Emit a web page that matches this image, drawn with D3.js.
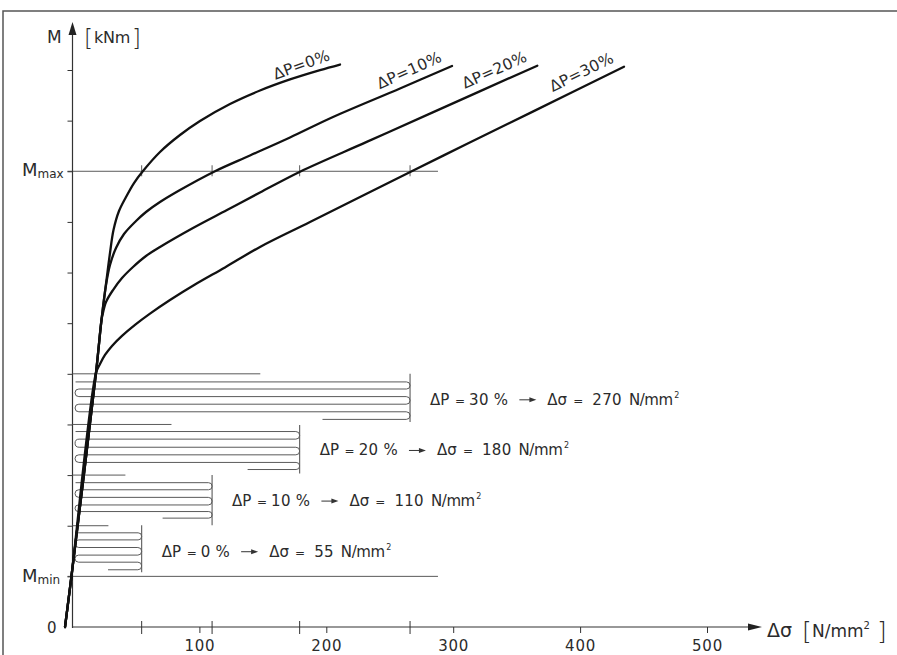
<!DOCTYPE html>
<html><head><meta charset="utf-8">
<script src="https://cdn.jsdelivr.net/npm/d3@7"></script>
<style>
body{margin:0;background:#fff}
svg{display:block}
text{font-family:"DejaVu Sans",sans-serif;fill:#2b2b2b}
</style></head><body>
<svg id="c" width="897" height="655"></svg>
<script>
// ---------------- data ----------------
const seriesNames = ["ΔP=0%", "ΔP=10%", "ΔP=20%", "ΔP=30%"];
const curve0Sigma  = [-5.9, -0.8, 18.5, 22.85, 26.79, 29.55, 32.31, 36.64, 42.16, 48.46, 55.56, 68.95, 84.71, 100.47, 124.11, 147.75, 171.39, 195.04, 210.8];
const curve0M      = [0, 1.007, 5.016, 6.063, 6.853, 7.386, 7.84, 8.215, 8.492, 8.768, 9.005, 9.381, 9.716, 9.993, 10.329, 10.595, 10.814, 10.998, 11.108];
const curve10Sigma = [-5.9, -0.8, 18.5, 22.85, 26.4, 29.55, 34.28, 40.58, 50.04, 57.92, 68.95, 84.71, 111.5, 139.87, 171.39, 205.28, 258.08, 299.05];
const curve10M     = [0, 1.007, 5.016, 6.063, 6.754, 7.149, 7.485, 7.761, 8.018, 8.196, 8.393, 8.63, 8.992, 9.312, 9.667, 10.072, 10.635, 11.079];
const curve20Sigma = [-5.9, -0.8, 18.5, 22.85, 23.64, 26.4, 31.92, 39.01, 47.68, 57.92, 68.95, 94.96, 121.75, 147.75, 179.28, 231.84, 284.32, 366.27];
const curve20M     = [0, 1.007, 5.016, 6.063, 6.162, 6.418, 6.655, 6.892, 7.11, 7.327, 7.505, 7.88, 8.235, 8.581, 8.992, 9.58, 10.169, 11.085];
const curve30Sigma = [-5.9, -0.8, 18.5, 21.67, 25.61, 31.13, 39.01, 49.25, 61.07, 76.83, 96.53, 120.17, 147.75, 187.16, 266.51, 310.64, 363.12, 434.59];
const curve30M     = [0, 1.007, 5.016, 5.194, 5.372, 5.551, 5.749, 5.967, 6.189, 6.458, 6.764, 7.102, 7.505, 7.998, 8.992, 9.537, 10.183, 11.065];
const curveLabelAngles = [-20, -24, -24, -26];

const xTickValues = [100, 200, 300, 400, 500];
const xTickLabels = ["100", "200", "300", "400", "500"];
const yTickValues = [1, 2, 3, 4, 5, 6, 7, 8, 9, 10, 11];
const mMax = 9, mMin = 1, refLineEnd = 288;

// load-cycle loops (one entry per ΔP: 0, 10, 20, 30 %)
const loopPct        = ["0 %", "10 %", "20 %", "30 %"];
const loopSigmaLabel = ["55", "110", "180", "270"];
const loopBarSigma   = [54.5, 110, 179, 266];
const loopTickM      = [2, 3, 4, 5];
const loopTickEnd    = [28.3, 41.7, 78, 148];
const loopPartialStart = [28, 71, 138, 197];
const loopBarTop     = [2.01, 3.0, 3.99, 5.0];
const loopBarBottom  = [1.08, 2.01, 3.03, 4.05];
const loopLevels0  = [1.86, 1.72, 1.57, 1.42, 1.28, 1.13];
const loopLevels10 = [2.85, 2.71, 2.56, 2.41, 2.28, 2.15];
const loopLevels20 = [3.86, 3.71, 3.55, 3.40, 3.25, 3.11];
const loopLevels30 = [4.84, 4.70, 4.55, 4.40, 4.25, 4.10];

// ---------------- drawing ----------------
const svg = d3.select("#c");
const x = d3.scaleLinear().domain([0, 500]).range([72.5, 707]);
const y = d3.scaleLinear().domain([0, 11]).range([627, 70]);

const thin = "#5a5a5a", axisCol = "#333";

// frame
svg.append("path").attr("d", "M3,655 V11 H897").attr("fill", "none")
  .attr("stroke", "#555").attr("stroke-width", 1.5);

// reference lines Mmax / Mmin
[mMax, mMin].forEach(m => {
  svg.append("line").attr("x1", x(0) - 5).attr("x2", x(refLineEnd))
    .attr("y1", y(m)).attr("y2", y(m)).attr("stroke", thin).attr("stroke-width", 1);
});
// crossing ticks on Mmax line
loopBarSigma.forEach(s => {
  svg.append("line").attr("x1", x(s)).attr("x2", x(s))
    .attr("y1", y(mMax) - 6).attr("y2", y(mMax) + 5).attr("stroke", thin).attr("stroke-width", 1);
});

// x axis
const xAxis = d3.axisBottom(x).tickValues(xTickValues)
  .tickFormat((d, i) => xTickLabels[i]).tickSize(6).tickPadding(7);
const gx = svg.append("g").attr("transform", `translate(0,${y(0)})`).call(xAxis);
gx.select(".domain").remove();
gx.selectAll("line").attr("stroke", axisCol);
gx.selectAll("text").attr("font-size", 15).attr("letter-spacing", 0.8)
  .attr("font-family", "DejaVu Sans").attr("fill", "#2b2b2b");
svg.append("line").attr("x1", x(0)).attr("x2", 750).attr("y1", y(0)).attr("y2", y(0))
  .attr("stroke", axisCol).attr("stroke-width", 1.2);
svg.append("path").attr("d", `M762,${y(0)} L748,${y(0) - 3.5} L748,${y(0) + 3.5} Z`).attr("fill", "#222");
// special x ticks
loopBarSigma.forEach(s => {
  svg.append("line").attr("x1", x(s)).attr("x2", x(s))
    .attr("y1", y(0) - 6).attr("y2", y(0) + 7).attr("stroke", axisCol).attr("stroke-width", 1);
});

// y axis
const yAxis = d3.axisLeft(y).tickValues(yTickValues).tickFormat("").tickSize(5);
const gy = svg.append("g").attr("transform", `translate(${x(0)},0)`).call(yAxis);
gy.select(".domain").remove();
gy.selectAll("line").attr("stroke", axisCol);
svg.append("line").attr("x1", x(0)).attr("x2", x(0)).attr("y1", y(0) + 1).attr("y2", 32)
  .attr("stroke", axisCol).attr("stroke-width", 1.2);
svg.append("path").attr("d", `M${x(0)},22 L${x(0) - 4},35 L${x(0) + 4},35 Z`).attr("fill", "#222");

// loops
const loopLevels = [loopLevels0, loopLevels10, loopLevels20, loopLevels30];
loopLevels.forEach((L, g) => {
  const bx = x(loopBarSigma[g]);
  const lx = x(2);
  svg.append("line").attr("x1", x(0)).attr("x2", x(loopTickEnd[g]))
    .attr("y1", y(loopTickM[g])).attr("y2", y(loopTickM[g])).attr("stroke", thin).attr("stroke-width", 1);
  let d = `M${x(2.4)},${y(L[0])}`;
  for (let i = 0; i < L.length - 1; i++) {
    const y0 = y(L[i]), y1 = y(L[i + 1]);
    const r = (y1 - y0) / 2;
    if (i % 2 === 0) d += ` H${bx - r} A${r},${r} 0 0 1 ${bx - r},${y1}`;
    else d += ` H${lx + r} A${r},${r} 0 0 0 ${lx + r},${y1}`;
  }
  d += ` H${x(loopPartialStart[g])}`;
  svg.append("path").attr("d", d).attr("fill", "none").attr("stroke", thin).attr("stroke-width", 1);
  svg.append("line").attr("x1", bx).attr("x2", bx)
    .attr("y1", y(loopBarTop[g])).attr("y2", y(loopBarBottom[g])).attr("stroke", thin).attr("stroke-width", 1.1);

  // label  "ΔP = xx %  →  Δσ = nnn N/mm²"
  const tx = bx + 20, ty = y(loopTickM[g]) + 31;
  const grp = svg.append("g").attr("font-size", 15);
  const put = (xx, s) => grp.append("text").attr("x", xx).attr("y", ty).text(s);
  put(tx, "ΔP");
  put(tx + 30, "=").attr("font-size", 12).attr("text-anchor", "middle");
  const pctT = put(tx + 39, loopPct[g]).attr("letter-spacing", 0.3);
  const pctEnd = tx + 39 + pctT.node().getComputedTextLength();
  const ax = pctEnd + 11, ay = ty - 5;
  svg.append("line").attr("x1", ax).attr("x2", ax + 12).attr("y1", ay).attr("y2", ay)
    .attr("stroke", "#333").attr("stroke-width", 1);
  svg.append("path").attr("d", `M${ax + 17},${ay} L${ax + 10},${ay - 2.5} L${ax + 10},${ay + 2.5} Z`).attr("fill", "#333");
  const sx = ax + 28;
  put(sx, "Δσ");
  put(sx + 31, "=").attr("font-size", 12).attr("text-anchor", "middle");
  const numT = put(sx + 45, loopSigmaLabel[g]).attr("letter-spacing", 0.3);
  const numEnd = sx + 45 + numT.node().getComputedTextLength();
  const nT = put(numEnd + 7, "N/mm").attr("font-size", 15).attr("letter-spacing", -0.4);
  nT.append("tspan").attr("font-size", 8).attr("dy", -7).attr("dx", 1.5).text("2");
});

// curves
const curves = [
  [curve0Sigma, curve0M], [curve10Sigma, curve10M],
  [curve20Sigma, curve20M], [curve30Sigma, curve30M]
];
const line = d3.line().x(d => x(d[0])).y(d => y(d[1])).curve(d3.curveCatmullRom.alpha(0.5));
curves.forEach(([S, M], i) => {
  const pts = S.map((s, k) => [s, M[k]]);
  svg.append("path").attr("d", line(pts)).attr("fill", "none")
    .attr("stroke", "#111").attr("stroke-width", 2.3).attr("stroke-linecap", "round");
  const last = pts[pts.length - 1];
  const ex = x(last[0]) - 9, ey = y(last[1]) - 5;
  svg.append("text").attr("font-size", 15.5).attr("letter-spacing", 0.3).attr("text-anchor", "end")
    .attr("transform", `translate(${ex},${ey}) rotate(${curveLabelAngles[i]})`)
    .text(seriesNames[i]);
});

// axis texts
svg.append("text").attr("x", 47).attr("y", 43).attr("font-size", 17).text("M");
svg.append("text").attr("x", 84).attr("y", 46).attr("font-size", 23).attr("font-weight", 200).text("[");
svg.append("text").attr("x", 94).attr("y", 43).attr("font-size", 16).attr("letter-spacing", -0.3).text("kNm");
svg.append("text").attr("x", 132).attr("y", 46).attr("font-size", 23).attr("font-weight", 200).text("]");

const mm = svg.append("text").attr("x", 22).attr("y", y(mMax) + 5).attr("font-size", 18);
mm.append("tspan").text("M");
mm.append("tspan").attr("font-size", 12).attr("dy", 2).text("max");
const mn = svg.append("text").attr("x", 22).attr("y", y(mMin) + 6).attr("font-size", 18);
mn.append("tspan").text("M");
mn.append("tspan").attr("font-size", 12).attr("dy", 2).text("min");
svg.append("text").attr("x", 47).attr("y", y(0) + 6).attr("font-size", 15).text("0");

svg.append("text").attr("x", 767).attr("y", 637).attr("font-size", 19).text("Δσ");
svg.append("text").attr("x", 802).attr("y", 640).attr("font-size", 25).attr("font-weight", 200).text("[");
const nu = svg.append("text").attr("x", 812).attr("y", 637).attr("font-size", 17);
nu.append("tspan").text("N/mm");
nu.append("tspan").attr("font-size", 10).attr("dy", -8).text("2");
svg.append("text").attr("x", 877).attr("y", 640).attr("font-size", 25).attr("font-weight", 200).text("]");
</script>
</body></html>
